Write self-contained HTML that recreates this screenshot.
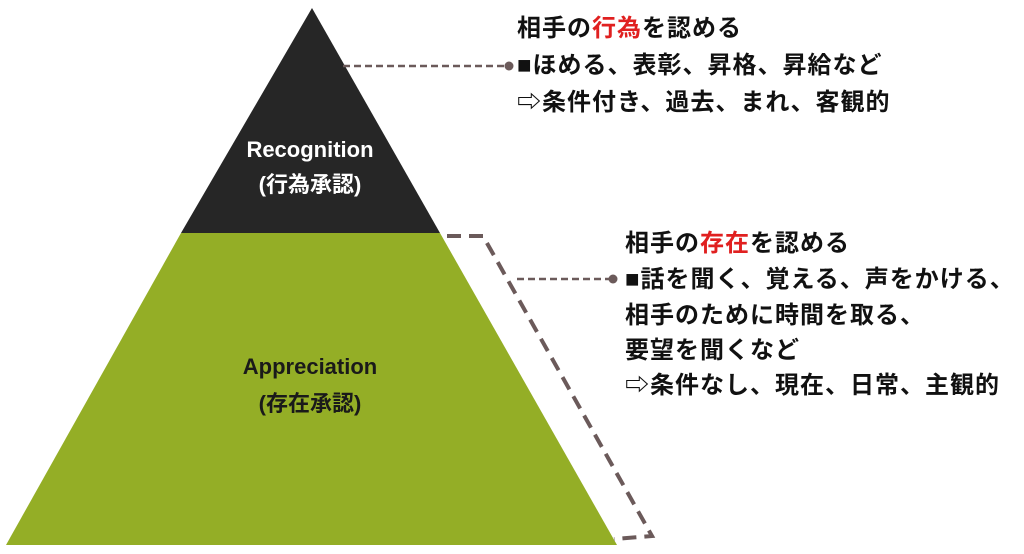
<!DOCTYPE html>
<html><head><meta charset="utf-8"><style>
html,body{margin:0;padding:0;background:#fff;width:1024px;height:554px;overflow:hidden;position:relative}
.t{position:absolute;font-family:"Liberation Sans","Noto Sans CJK JP",sans-serif;font-weight:bold;font-size:24px;letter-spacing:1px;color:#111;white-space:nowrap;line-height:24px}
.r{color:#e02020}
.c{position:absolute;font-family:"Liberation Sans Narrow","Liberation Sans","Noto Sans CJK JP",sans-serif;font-weight:bold;font-size:22px;text-align:center;width:300px;left:160px;white-space:nowrap;line-height:24px}
</style></head><body>
<svg width="1024" height="554" style="position:absolute;left:0;top:0">
<polygon points="312,8 440,233 181,233" fill="#262626"/>
<polygon points="181,233 440,233 617,545 6,545" fill="#94ae26"/>
<g stroke="#6b5a5a" stroke-width="4" fill="none" stroke-dasharray="14,8">
<polyline points="447,236 483,236 652,536 614,539"/>
</g>
<g stroke="#6b5a5a" stroke-width="2.5" fill="none" stroke-dasharray="7,4">
<line x1="343" y1="66" x2="508" y2="66"/>
<line x1="517" y1="279" x2="612" y2="279"/>
</g>
<circle cx="509" cy="66" r="4.5" fill="#6b5a5a"/>
<circle cx="613" cy="279" r="4.5" fill="#6b5a5a"/>
</svg>
<div class="c" style="top:138px;color:#fff">Recognition</div>
<div class="c" style="top:173px;color:#fff">(行為承認)</div>
<div class="c" style="top:355px;color:#1a1a1a">Appreciation</div>
<div class="c" style="top:392px;color:#1a1a1a">(存在承認)</div>
<div class="t" style="left:517px;top:17px">相手の<span class="r">行為</span>を認める</div>
<div class="t" style="left:517px;top:54px">■ほめる、表彰、昇格、昇給など</div>
<div class="t" style="left:517px;top:91px">⇨条件付き、過去、まれ、客観的</div>
<div class="t" style="left:625px;top:232px">相手の<span class="r">存在</span>を認める</div>
<div class="t" style="left:625px;top:268px">■話を聞く、覚える、声をかける、</div>
<div class="t" style="left:625px;top:304px">相手のために時間を取る、</div>
<div class="t" style="left:625px;top:339px">要望を聞くなど</div>
<div class="t" style="left:625px;top:374px">⇨条件なし、現在、日常、主観的</div>
</body></html>
